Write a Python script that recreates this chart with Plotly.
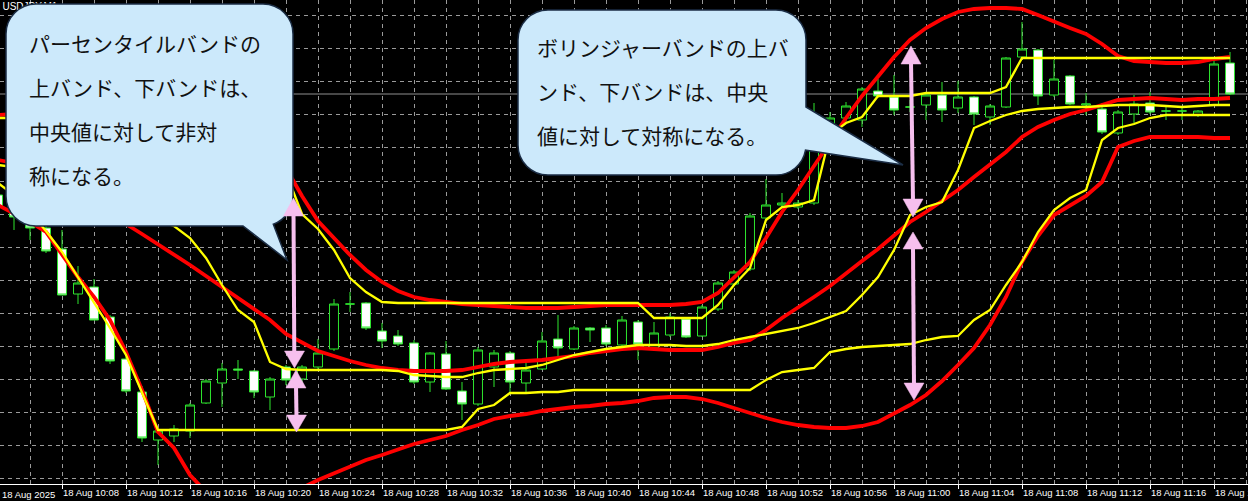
import plotly.graph_objects as go

# ---------------- data (USDJPY M1, 18 Aug 2025, minutes after 10:00) ----------------
minutes = list(range(4, 82))

opens = [147.805, 147.800, 147.787, 147.772, 147.751, 147.706, 147.713, 147.683, 147.641, 147.608,
         147.560, 147.564, 147.569, 147.597, 147.617, 147.631, 147.629, 147.603, 147.633, 147.621,
         147.633, 147.651, 147.696, 147.697, 147.669, 147.664, 147.657, 147.618, 147.646, 147.609,
         147.596, 147.633, 147.647, 147.617, 147.631, 147.661, 147.651, 147.672, 147.672, 147.655,
         147.678, 147.652, 147.665, 147.681, 147.664, 147.691, 147.716, 147.731, 147.782, 147.795,
         147.793, 147.797, 147.875, 147.882, 147.880, 147.909, 147.903, 147.893, 147.895, 147.905,
         147.892, 147.903, 147.883, 147.893, 147.943, 147.950, 147.905, 147.924, 147.895, 147.891,
         147.867, 147.886, 147.897, 147.889, 147.889, 147.885, 147.895, 147.937]
highs = [147.810, 147.805, 147.793, 147.778, 147.770, 147.734, 147.721, 147.685, 147.643, 147.614,
         147.572, 147.575, 147.597, 147.621, 147.637, 147.640, 147.630, 147.623, 147.635, 147.635,
         147.661, 147.701, 147.708, 147.698, 147.677, 147.670, 147.660, 147.648, 147.659, 147.618,
         147.653, 147.650, 147.649, 147.637, 147.668, 147.685, 147.674, 147.673, 147.675, 147.684,
         147.680, 147.678, 147.687, 147.683, 147.695, 147.719, 147.730, 147.787, 147.821, 147.807,
         147.800, 147.897, 147.888, 147.898, 147.913, 147.921, 147.925, 147.900, 147.906, 147.918,
         147.919, 147.904, 147.896, 147.943, 147.978, 147.951, 147.940, 147.925, 147.907, 147.897,
         147.890, 147.905, 147.908, 147.893, 147.893, 147.890, 147.940, 147.948]
lows = [147.788, 147.770, 147.760, 147.747, 147.705, 147.696, 147.680, 147.636, 147.607, 147.558,
        147.535, 147.558, 147.562, 147.596, 147.593, 147.621, 147.602, 147.590, 147.615, 147.617,
        147.631, 147.649, 147.688, 147.670, 147.652, 147.654, 147.616, 147.608, 147.610, 147.580,
        147.594, 147.613, 147.608, 147.608, 147.630, 147.643, 147.650, 147.658, 147.654, 147.653,
        147.640, 147.650, 147.663, 147.662, 147.663, 147.689, 147.714, 147.729, 147.781, 147.793,
        147.791, 147.795, 147.865, 147.878, 147.873, 147.902, 147.885, 147.888, 147.880, 147.878,
        147.887, 147.875, 147.875, 147.892, 147.942, 147.895, 147.903, 147.895, 147.885, 147.866,
        147.865, 147.877, 147.886, 147.880, 147.880, 147.883, 147.894, 147.905]
closes = [147.793, 147.783, 147.772, 147.749, 147.705, 147.717, 147.680, 147.639, 147.609, 147.562,
          147.569, 147.571, 147.595, 147.619, 147.631, 147.630, 147.608, 147.621, 147.620, 147.633,
          147.647, 147.696, 147.696, 147.672, 147.659, 147.656, 147.618, 147.647, 147.611, 147.596,
          147.650, 147.647, 147.618, 147.630, 147.659, 147.652, 147.672, 147.670, 147.656, 147.680,
          147.656, 147.667, 147.683, 147.663, 147.693, 147.717, 147.728, 147.784, 147.795, 147.797,
          147.797, 147.875, 147.882, 147.894, 147.911, 147.904, 147.890, 147.893, 147.905, 147.890,
          147.903, 147.886, 147.894, 147.942, 147.951, 147.904, 147.921, 147.896, 147.896, 147.868,
          147.888, 147.896, 147.888, 147.889, 147.889, 147.889, 147.936, 147.906]

# Bollinger bands (red)
bb_upper = [147.885, 147.886, 147.888, 147.888, 147.895, 147.899, 147.898, 147.897, 147.904, 147.920,
            147.938, 147.942, 147.945, 147.940, 147.930, 147.915, 147.892, 147.865, 147.832, 147.804,
            147.779, 147.762, 147.745, 147.730, 147.718, 147.709, 147.703, 147.700, 147.698, 147.696,
            147.695, 147.694, 147.693, 147.692, 147.692, 147.692, 147.693, 147.694, 147.695, 147.695,
            147.695, 147.695, 147.695, 147.696, 147.698, 147.707, 147.722, 147.738, 147.762, 147.788,
            147.810, 147.834, 147.858, 147.882, 147.904, 147.924, 147.943, 147.960, 147.972, 147.981,
            147.988, 147.991, 147.992, 147.992, 147.991, 147.985, 147.978, 147.972, 147.966, 147.956,
            147.944, 147.939, 147.938, 147.937, 147.937, 147.938, 147.941, 147.943]
bb_middle = [147.840, 147.837, 147.833, 147.828, 147.820, 147.811, 147.800, 147.788, 147.776, 147.766,
             147.756, 147.746, 147.735, 147.724, 147.713, 147.702, 147.692, 147.680, 147.666, 147.658,
             147.649, 147.644, 147.639, 147.635, 147.632, 147.630, 147.629, 147.629, 147.629, 147.630,
             147.633, 147.636, 147.638, 147.639, 147.640, 147.642, 147.644, 147.647, 147.649, 147.651,
             147.652, 147.651, 147.650, 147.650, 147.650, 147.653, 147.657, 147.660, 147.670, 147.682,
             147.692, 147.703, 147.714, 147.727, 147.739, 147.751, 147.765, 147.778, 147.788, 147.799,
             147.810, 147.823, 147.835, 147.848, 147.863, 147.873, 147.880, 147.886, 147.890, 147.895,
             147.900, 147.901, 147.902, 147.901, 147.900, 147.901, 147.901, 147.902]
bb_lower = [147.795, 147.787, 147.778, 147.768, 147.745, 147.723, 147.703, 147.680, 147.648, 147.610,
            147.568, 147.552, 147.525, 147.508, 147.495, 147.488, 147.485, 147.485, 147.500, 147.512,
            147.520, 147.527, 147.534, 147.540, 147.545, 147.551, 147.556, 147.560, 147.564, 147.570,
            147.575, 147.581, 147.584, 147.586, 147.589, 147.591, 147.593, 147.594, 147.596, 147.597,
            147.599, 147.602, 147.603, 147.603, 147.601, 147.597, 147.592, 147.587, 147.582, 147.578,
            147.575, 147.573, 147.572, 147.572, 147.574, 147.578, 147.586, 147.595, 147.605, 147.619,
            147.635, 147.652, 147.675, 147.703, 147.738, 147.764, 147.785, 147.795, 147.804, 147.818,
            147.853, 147.859, 147.863, 147.863, 147.863, 147.863, 147.862, 147.862]

# Percentile bands (yellow)
pct_upper = [147.882, 147.882, 147.882, 147.882, 147.881, 147.880, 147.878, 147.875, 147.872, 147.868,
             147.864, 147.860, 147.855, 147.850, 147.845, 147.840, 147.835, 147.831, 147.827, 147.786,
             147.771, 147.750, 147.722, 147.708, 147.698, 147.697, 147.697, 147.697, 147.697, 147.697,
             147.697, 147.697, 147.697, 147.697, 147.697, 147.697, 147.697, 147.697, 147.697, 147.697,
             147.697, 147.682, 147.682, 147.682, 147.682, 147.695, 147.715, 147.732, 147.780, 147.793,
             147.795, 147.800, 147.865, 147.877, 147.883, 147.904, 147.904, 147.904, 147.907, 147.907,
             147.907, 147.907, 147.907, 147.913, 147.942, 147.942, 147.942, 147.942, 147.942, 147.942,
             147.942, 147.942, 147.942, 147.942, 147.942, 147.942, 147.942, 147.942]
pct_median = [147.835, 147.833, 147.830, 147.825, 147.820, 147.814, 147.807, 147.800, 147.792, 147.785,
              147.779, 147.774, 147.762, 147.742, 147.715, 147.690, 147.678, 147.638, 147.631, 147.630,
              147.630, 147.630, 147.630, 147.630, 147.630, 147.629, 147.625, 147.624, 147.623, 147.623,
              147.627, 147.630, 147.631, 147.632, 147.635, 147.640, 147.645, 147.648, 147.651, 147.653,
              147.655, 147.655, 147.655, 147.654, 147.654, 147.656, 147.660, 147.663, 147.666, 147.669,
              147.672, 147.677, 147.683, 147.689, 147.705, 147.723, 147.750, 147.785, 147.793, 147.798,
              147.830, 147.872, 147.879, 147.885, 147.889, 147.891, 147.892, 147.893, 147.893, 147.894,
              147.895, 147.895, 147.895, 147.894, 147.893, 147.894, 147.895, 147.895]
pct_lower = [147.817, 147.805, 147.788, 147.769, 147.748, 147.723, 147.697, 147.672, 147.645, 147.607,
             147.570, 147.570, 147.570, 147.570, 147.570, 147.570, 147.570, 147.570, 147.570, 147.570,
             147.570, 147.570, 147.570, 147.570, 147.570, 147.570, 147.570, 147.570, 147.570, 147.573,
             147.591, 147.595, 147.607, 147.607, 147.608, 147.608, 147.610, 147.610, 147.610, 147.610,
             147.610, 147.610, 147.610, 147.610, 147.610, 147.610, 147.610, 147.610, 147.620, 147.628,
             147.630, 147.632, 147.648, 147.651, 147.653, 147.654, 147.655, 147.656, 147.660, 147.663,
             147.664, 147.680, 147.690, 147.715, 147.738, 147.768, 147.790, 147.802, 147.810, 147.860,
             147.872, 147.876, 147.882, 147.885, 147.885, 147.885, 147.885, 147.885]

bid_price = 147.906
symbol_label = "USDJPY,M1"

tick_minutes = [8, 12, 16, 20, 24, 28, 32, 36, 40, 44, 48, 52, 56, 60, 64, 68, 72, 76, 80]
tick_labels = ["18 Aug 10:08", "18 Aug 10:12", "18 Aug 10:16", "18 Aug 10:20", "18 Aug 10:24",
               "18 Aug 10:28", "18 Aug 10:32", "18 Aug 10:36", "18 Aug 10:40", "18 Aug 10:44",
               "18 Aug 10:48", "18 Aug 10:52", "18 Aug 10:56", "18 Aug 11:00", "18 Aug 11:04",
               "18 Aug 11:08", "18 Aug 11:12", "18 Aug 11:16", "18 Aug 11:20"]
minor_grid_minutes = [6, 10, 14, 18, 22, 26, 30, 34, 38, 42, 46, 50, 54, 58, 62, 66, 70, 74, 78, 82]
first_label = "18 Aug 2025"

note_left = ["パーセンタイルバンドの", "上バンド、下バンドは、", "中央値に対して非対", "称になる。"]
note_right = ["ボリンジャーバンドの上バ", "ンド、下バンドは、中央", "値に対して対称になる。"]

# ---------------- layout helpers (pixel positions -> paper coords) ----------------
W, HP = 1248, 484


def P(x, y):
    return f"{x / W:.5f},{1 - y / HP:.5f}"


GREEN = "#2ee62e"
RED = "#ff0000"
YELLOW = "#ffff00"
GRID = "#9a9a9a"
PINK = "#f6bfee"
BUBBLE = "#cce9fb"
BORDER = "#1b2d45"
AXIS_FONT = dict(family="Liberation Sans", size=9.5, color="white")

fig = go.Figure()

fig.add_trace(go.Candlestick(
    x=minutes, open=opens, high=highs, low=lows, close=closes,
    increasing=dict(line=dict(color=GREEN, width=1), fillcolor="black"),
    decreasing=dict(line=dict(color=GREEN, width=1), fillcolor="white"),
    whiskerwidth=0, showlegend=False, hoverinfo="skip"))

for series in (bb_upper, bb_middle, bb_lower):
    fig.add_trace(go.Scatter(x=minutes, y=series, mode="lines",
                             line=dict(color=RED, width=3.8), showlegend=False, hoverinfo="skip"))
for series in (pct_upper, pct_median, pct_lower):
    fig.add_trace(go.Scatter(x=minutes, y=series, mode="lines",
                             line=dict(color=YELLOW, width=2.3), showlegend=False, hoverinfo="skip"))

fig.add_trace(go.Scatter(x=[4.28], y=[147.9925], mode="text", text=[symbol_label],
                         textposition="middle right",
                         textfont=dict(family="Liberation Sans", size=10, color="white"),
                         showlegend=False, hoverinfo="skip"))

shapes = []
# current bid line
shapes.append(dict(type="line", xref="paper", x0=0, x1=1, yref="y", y0=bid_price, y1=bid_price,
                   line=dict(color="#8f8f8f", width=1), layer="below"))

# speech bubbles
r, k = 30, 16.57
x0, y0, x1, y1 = 6, 4, 293, 226
left_path = (f"M{P(x0 + r, y0)} L{P(x1 - r, y0)} C{P(x1 - r + k, y0)} {P(x1, y0 + r - k)} {P(x1, y0 + r)} "
             f"L{P(x1, y1 - r)} C{P(x1, y1 - r + 12.6)} {P(285.1, 219.9)} {P(273.3, 224.2)} "
             f"L{P(287, 260)} L{P(243, y1)} L{P(x0 + r, y1)} "
             f"C{P(x0 + r - k, y1)} {P(x0, y1 - r + k)} {P(x0, y1 - r)} L{P(x0, y0 + r)} "
             f"C{P(x0, y0 + r - k)} {P(x0 + r - k, y0)} {P(x0 + r, y0)} Z")
x0, y0, x1, y1 = 518, 10, 806, 175
right_path = (f"M{P(x0 + r, y0)} L{P(x1 - r, y0)} C{P(x1 - r + k, y0)} {P(x1, y0 + r - k)} {P(x1, y0 + r)} "
              f"L{P(x1, 107)} L{P(903, 165)} L{P(805.5, 150.2)} "
              f"C{P(803, 164.5)} {P(790.6, 175)} {P(776, 175)} L{P(x0 + r, y1)} "
              f"C{P(x0 + r - k, y1)} {P(x0, y1 - r + k)} {P(x0, y1 - r)} L{P(x0, y0 + r)} "
              f"C{P(x0, y0 + r - k)} {P(x0 + r - k, y0)} {P(x0 + r, y0)} Z")
for pth in (left_path, right_path):
    shapes.append(dict(type="path", xref="paper", yref="paper", path=pth, fillcolor=BUBBLE,
                       line=dict(color=BORDER, width=1.5), layer="above"))


# pink double arrows
def shaft(xa, ya, xb, yb):
    return dict(type="path", xref="paper", yref="paper", path=f"M{P(xa, ya)} L{P(xb, yb)}",
                line=dict(color=PINK, width=4), layer="above")


def head(xt, yt, yb, hw=10):
    return dict(type="path", xref="paper", yref="paper",
                path=f"M{P(xt, yt)} L{P(xt - hw, yb)} L{P(xt + hw, yb)} Z",
                fillcolor=PINK, line=dict(color=PINK, width=0.5), layer="above")


shapes += [shaft(293.5, 214, 294.3, 354), head(293.5, 198, 216), head(294.5, 368, 351),
           shaft(296, 386, 296.5, 417), head(296, 370, 388), head(296.5, 432, 415),
           shaft(911, 62, 913, 201), head(911, 46, 64), head(913, 217, 199),
           shaft(913, 247, 914, 385), head(913, 232, 249), head(914, 400, 383)]

annotations = []
for i, line in enumerate(note_left):
    annotations.append(dict(xref="paper", yref="paper", x=27 / W, y=1 - (43 + 44 * i) / HP,
                            xanchor="left", yanchor="middle", text=line, showarrow=False,
                            font=dict(family="Noto Sans CJK JP", size=21, color="#111111")))
for i, line in enumerate(note_right):
    annotations.append(dict(xref="paper", yref="paper", x=535 / W, y=1 - (47 + 44 * i) / HP,
                            xanchor="left", yanchor="middle", text=line, showarrow=False,
                            font=dict(family="Noto Sans CJK JP", size=21, color="#111111")))
annotations.append(dict(xref="paper", yref="paper", x=0, y=0, yshift=-10, xanchor="left",
                        yanchor="middle", text=first_label, showarrow=False, font=AXIS_FONT))

fig.update_layout(
    width=1248, height=501,
    margin=dict(l=0, r=0, t=0, b=17, pad=0),
    paper_bgcolor="black", plot_bgcolor="black",
    showlegend=False, boxgap=0.44, boxgroupgap=0,
    shapes=shapes, annotations=annotations,
    xaxis=dict(range=[4.125, 82.125], tickmode="array", tickvals=tick_minutes, ticktext=tick_labels,
               ticks="outside", ticklen=4, tickcolor="white", tickwidth=1, tickangle=0,
               showline=True, linecolor="white", linewidth=1,
               showgrid=True, gridcolor=GRID, gridwidth=1, griddash="4px,4px",
               minor=dict(tickvals=minor_grid_minutes, showgrid=True, gridcolor=GRID, gridwidth=1,
                          griddash="4px,4px", ticks=""),
               ticklabelposition="outside right", ticklabeloverflow="allow",
               tickfont=AXIS_FONT,
               zeroline=False, automargin=False, rangeslider=dict(visible=False)),
    yaxis=dict(range=[147.516, 148.000], tick0=147.9844, dtick=0.03308,
               showticklabels=False, ticks="", showgrid=True, gridcolor=GRID, gridwidth=1,
               griddash="4px,4px", zeroline=False, showline=False, automargin=False),
)

fig.write_html(
    "out.html",
    config={"displayModeBar": False},
    post_script="document.body.style.margin='0';document.body.style.padding='0';"
                "document.body.style.background='black';document.body.style.overflow='hidden';",
)
